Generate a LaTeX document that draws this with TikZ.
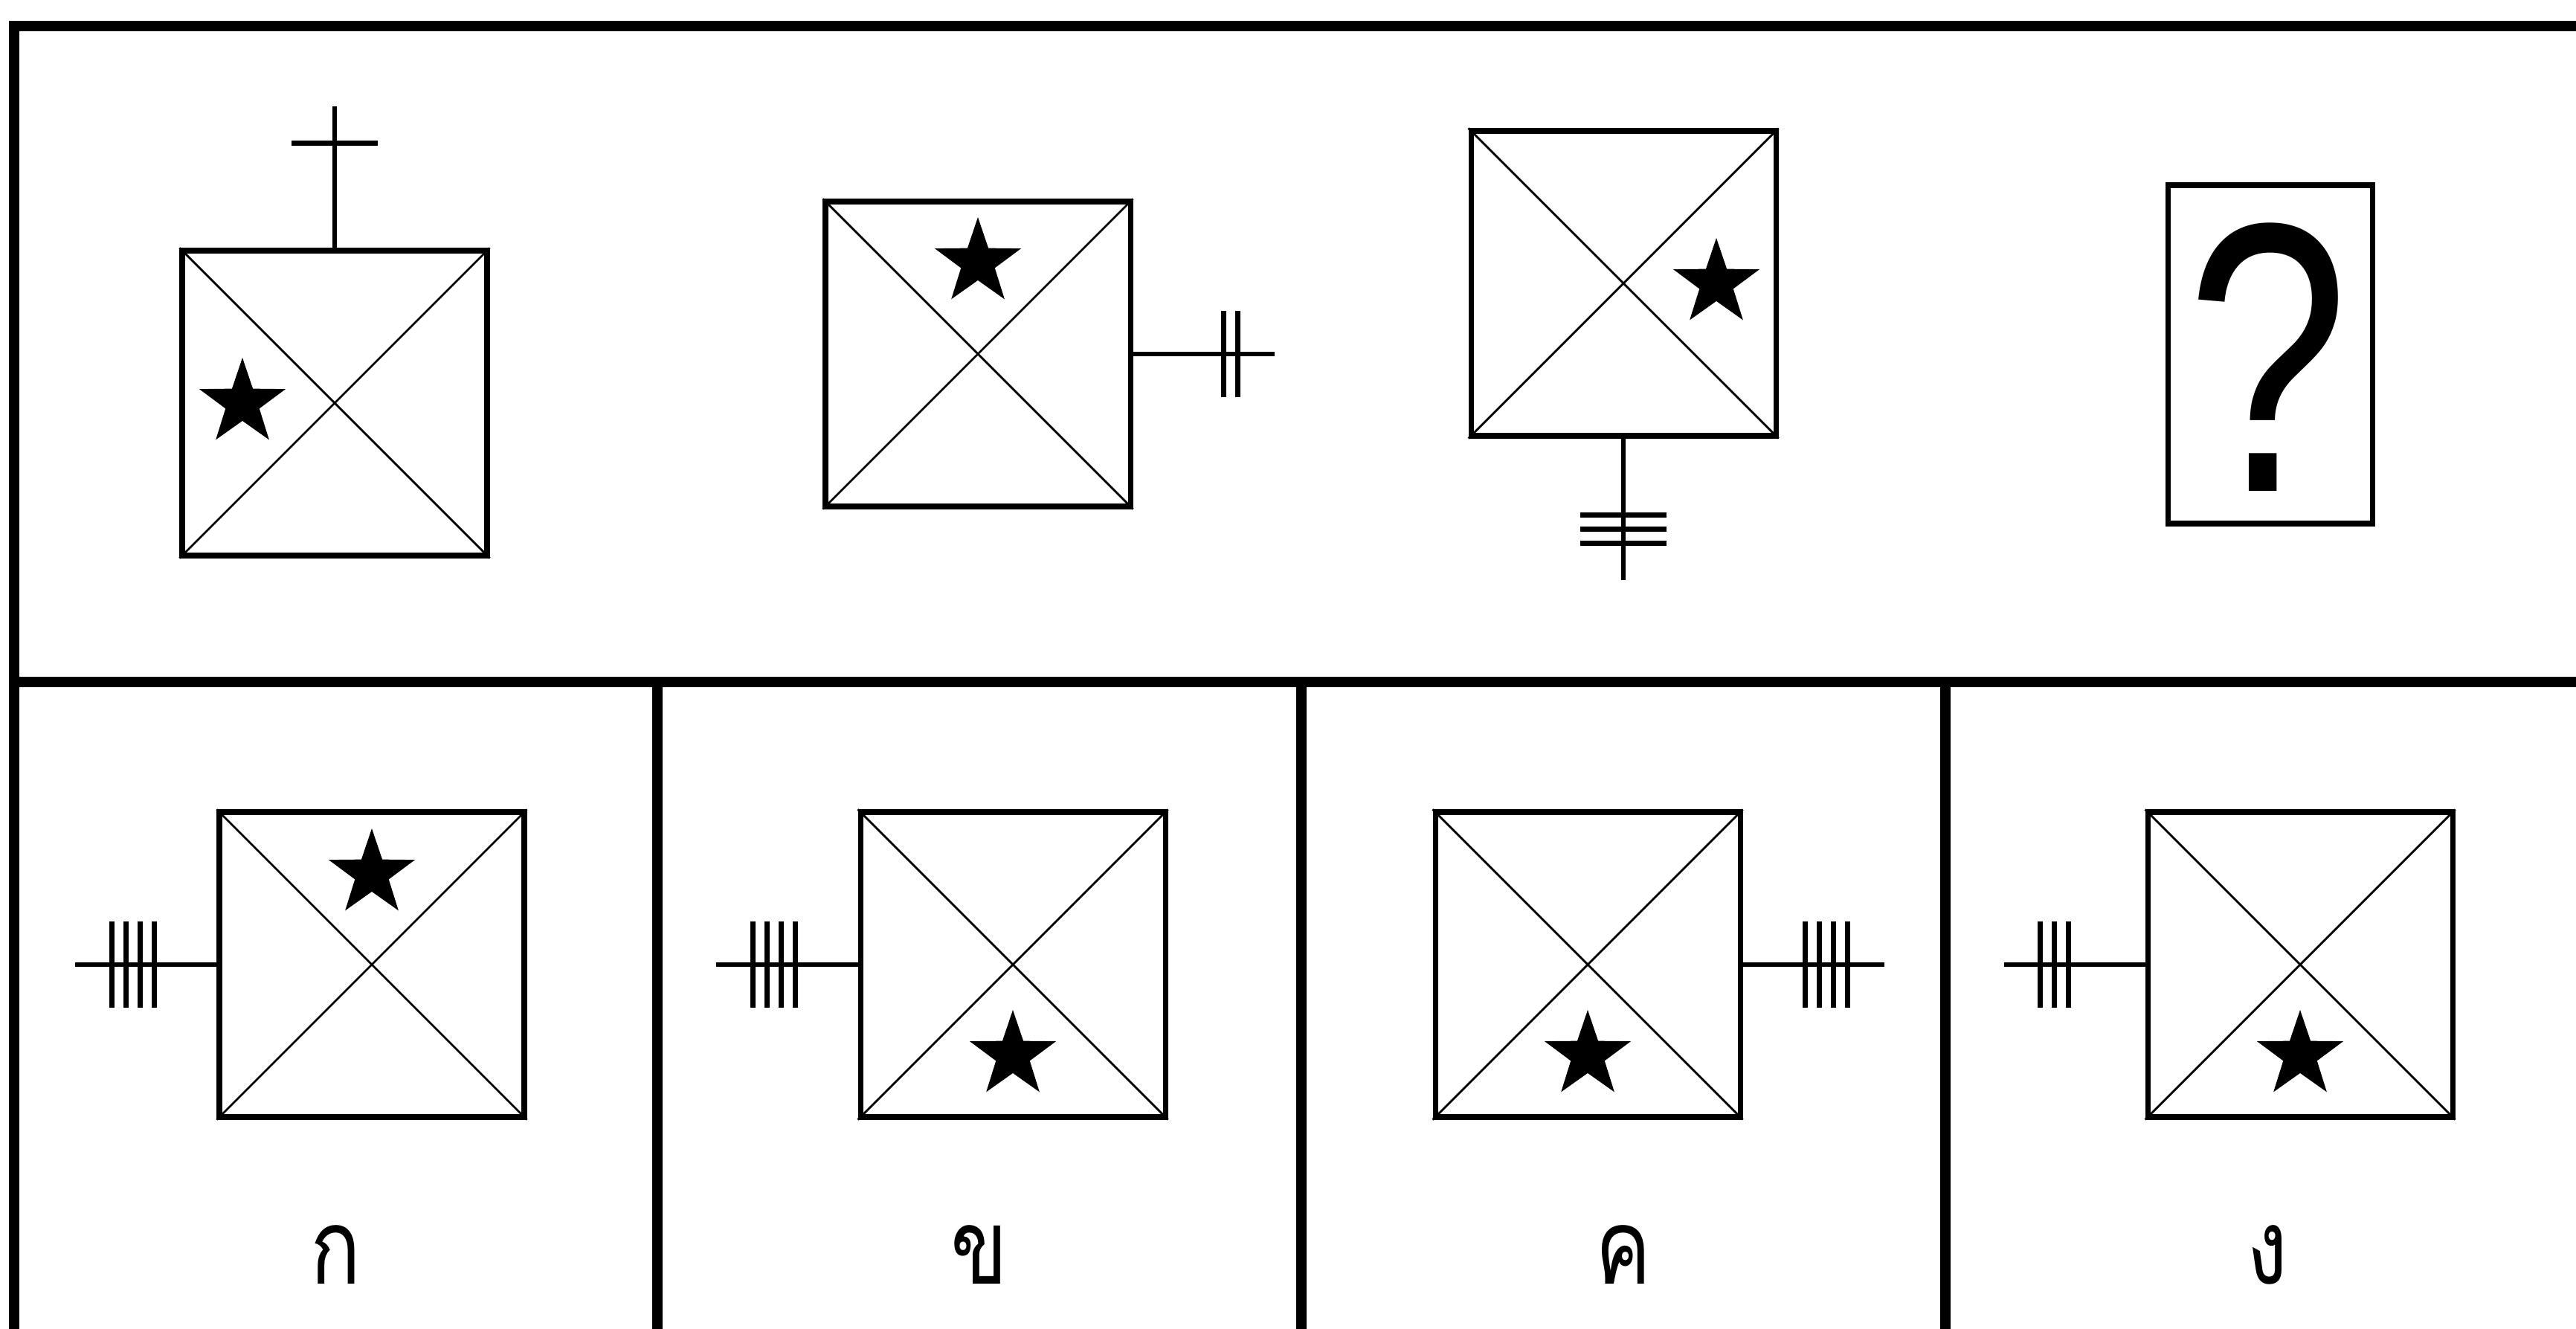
\documentclass[tikz,border=0pt]{standalone}
\usepackage{fontspec}
\usepackage{tikz}
\usetikzlibrary{shapes.geometric,calc}
\newfontfamily\thaifont[Script=Thai,FakeStretch=0.8]{Loma}
\newfontfamily\qfont[FakeStretch=0.76]{Liberation Sans}
\tikzset{
	sqbox/.style={draw,line width=2pt,minimum size=4.1cm,inner sep=0pt},
	starmark/.style={star,star points=5,star point ratio=2.55,fill=black,inner sep=0pt,minimum size=1.22cm},
	tailline/.style={line width=1.8pt},
	diagline/.style={line width=0.8pt},
	panelline/.style={line width=4pt},
	choicetag/.style={anchor=base,inner sep=0pt,font=\thaifont\fontsize{40}{40}\selectfont},
}
\newcommand{\xsquare}[2]{\node[sqbox] (#1) at (#2) {};\draw[diagline] (#1.north west) -- (#1.south east) (#1.north east) -- (#1.south west);}
\newcommand{\starat}[3]{\node[starmark] (#1) at ($(#2)+(#3)$) {};}
\newcommand{\tailmark}[4]{\coordinate (#1tip) at ($(#1.#2)+(#3:1.9)$);\draw[tailline] (#1.#2) -- (#1tip);
	\begin{scope}[shift={(#1.#2)},rotate=#3]\foreach \k in {1,...,#4}{\draw[tailline] ({1.41-(\k-1)*0.19},-0.58) -- ++(0,1.16);}\end{scope}}

\begin{document}
\begin{tikzpicture}
		\clip (0,0) rectangle (34.64,17.86);
		\draw[panelline] (0.19,-1) -- (0.19,17.51) -- (35,17.51) (0.19,8.69) -- (35,8.69);
		\foreach \x in {8.84,17.50,26.16} \draw[panelline] (\x,8.69) -- (\x,-1);
		\xsquare{figA}{4.50,12.44}\starat{starA}{figA}{-1.24,0}\tailmark{figA}{north}{90}{1}
		\xsquare{figB}{13.15,13.10}\starat{starB}{figB}{0,1.23}\tailmark{figB}{east}{0}{2}
		\xsquare{figC}{21.83,14.05}\starat{starC}{figC}{1.25,0}\tailmark{figC}{south}{270}{3}
		\node[draw,line width=2pt,minimum width=2.75cm,minimum height=4.55cm] (figQ) at (30.525,13.095) {};
		\node[anchor=base,inner sep=0pt,font=\qfont\fontsize{147}{147}\selectfont] (qmark) at (30.50,11.25) {?};
		\xsquare{optA}{5.00,4.89}\starat{starOA}{optA}{0,1.22}\tailmark{optA}{west}{180}{4}
		\xsquare{optB}{13.62,4.89}\starat{starOB}{optB}{0,-1.22}\tailmark{optB}{west}{180}{4}
		\xsquare{optC}{21.35,4.89}\starat{starOC}{optC}{0,-1.22}\tailmark{optC}{east}{0}{4}
		\xsquare{optD}{30.93,4.89}\starat{starOD}{optD}{0,-1.22}\tailmark{optD}{west}{180}{3}
		\node[choicetag] (tagA) at (4.515,0.60) {ก};\node[choicetag] (tagB) at (13.17,0.60) {ข};
		\node[choicetag] (tagC) at (21.83,0.60) {ค};\node[choicetag] (tagD) at (30.49,0.60) {ง};
\end{tikzpicture}
\end{document}
